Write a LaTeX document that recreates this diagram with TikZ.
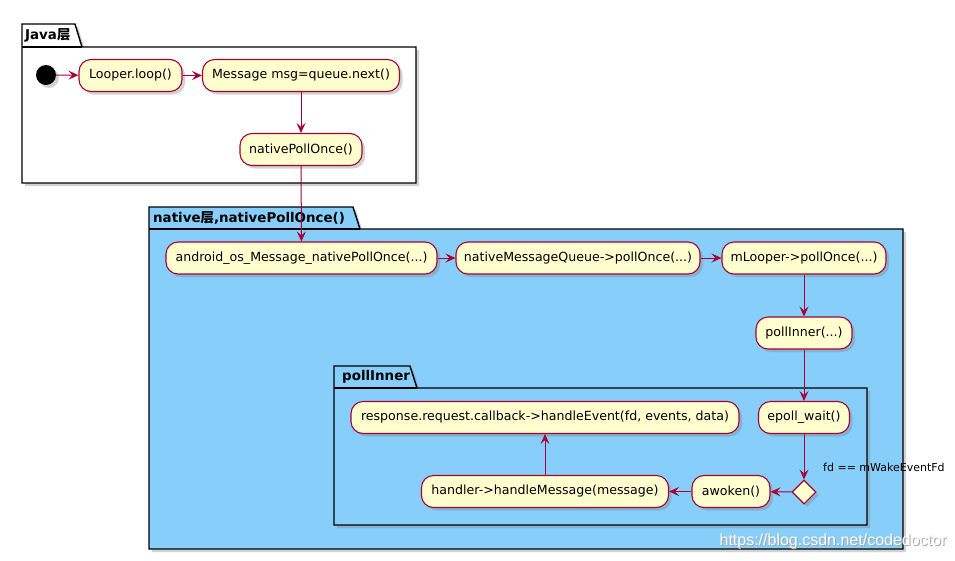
\documentclass[tikz,border=0pt]{standalone}
\usepackage{fontspec}
\setmainfont{DejaVu Sans}
\newfontfamily\cjk{Noto Sans CJK SC}
\newfontfamily\wmfont{Liberation Sans}
\usepackage{tikz}
\usetikzlibrary{arrows.meta,positioning,shapes.geometric,shadows}
\definecolor{umlred}{HTML}{A80036}
\definecolor{umlbox}{HTML}{FEFECE}
\definecolor{skyblue}{HTML}{87CEFA}
\tikzset{
  act/.style={draw=umlred,fill=umlbox,line width=1.1pt,rounded corners=12pt,
    minimum height=32pt,inner xsep=0pt,font=\fontsize{12.6}{14}\selectfont,
    drop shadow={shadow xshift=3pt,shadow yshift=-3pt,opacity=0.35}},
  pkg/.style={draw=black,line width=1.4pt,
    drop shadow={shadow xshift=3pt,shadow yshift=-3pt,opacity=0.35}},
  pkglabel/.style={anchor=west,inner sep=0pt,font=\fontsize{13.4}{15}\selectfont\bfseries},
  flow/.style={draw=umlred,line width=1pt,-{Stealth[length=10pt,width=9pt,inset=4pt]}}
}
\begin{document}
\begin{tikzpicture}[x=1pt,y=-1pt]
 \useasboundingbox[fill=white] (0,0) rectangle (955,560);
 % --- Java package ---
 \draw[pkg,fill=white] (22,24) -- (75,24) -- (82,47) -- (416,47) -- (416,183) -- (22,183) -- cycle;
 \draw[line width=1.4pt] (22,47) -- (82,47);
 \node[pkglabel] (javalbl) at (25,35) {Java{\cjk 层}};
 % --- native package ---
 \draw[pkg,fill=skyblue] (149,207) -- (353,207) -- (360,229) -- (903,229) -- (903,549) -- (149,549) -- cycle;
 \draw[line width=1.4pt] (149,229) -- (360,229);
 \node[pkglabel] (nativelbl) at (153,218) {native{\cjk 层},nativePollOnce()};
 % --- pollInner package ---
 \draw[pkg,fill=skyblue] (334,366) -- (410,366) -- (417,388) -- (867,388) -- (867,525) -- (334,525) -- cycle;
 \draw[line width=1.4pt] (334,388) -- (417,388);
 \node[pkglabel] (innerlbl) at (342,377) {pollInner};
 % --- activities ---
 \node[circle,fill=black,minimum size=20pt,inner sep=0pt,
   drop shadow={shadow xshift=3pt,shadow yshift=-3pt,opacity=0.35}] (start) at (46,75) {};
 \node[act,minimum width=103pt] (loop) at (130.5,75.5) {Looper.loop()};
 \node[act,minimum width=197pt] (next) at (301,75.5) {Message msg=queue.next()};
 \node[act,minimum width=122pt] (npo) at (301,149.5) {nativePollOnce()};
 \node[act,minimum width=271pt] (jni) at (301.5,258) {android\_os\_Message\_nativePollOnce(...)};
 \node[act,minimum width=244pt] (nmq) at (578,258) {nativeMessageQueue->pollOnce(...)};
 \node[act,minimum width=164pt] (mlooper) at (804,258) {mLooper->pollOnce(...)};
 \node[act,minimum width=96pt] (pinner) at (804,333) {pollInner(...)};
 \node[act,minimum width=91pt] (epoll) at (804,417.5) {epoll\_wait()};
 \node[act,minimum width=388pt] (resp) at (545,417.5) {response.request.callback->handleEvent(fd, events, data)};
 \node[diamond,draw=umlred,fill=umlbox,line width=1.1pt,minimum size=24pt,inner sep=0pt,
   drop shadow={shadow xshift=3pt,shadow yshift=-3pt,opacity=0.35}] (wake) at (804,492) {};
 \node[act,minimum width=78pt] (awoken) at (731,491.5) {awoken()};
 \node[act,minimum width=247pt] (handler) at (545,491.5) {handler->handleMessage(message)};
 \node[anchor=west,inner sep=0pt,font=\fontsize{11}{13}\selectfont] (cond) at (823,467) {fd == mWakeEventFd};
 % --- flows ---
 \draw[flow] (start) -- (loop);
 \draw[flow] (loop) -- (next);
 \draw[flow] (next) -- (npo);
 \draw[flow] (npo) -- (jni);
 \draw[flow] (jni) -- (nmq);
 \draw[flow] (nmq) -- (mlooper);
 \draw[flow] (mlooper) -- (pinner);
 \draw[flow] (pinner) -- (epoll);
 \draw[flow] (epoll) -- (wake);
 \draw[flow] (wake) -- (awoken);
 \draw[flow] (awoken) -- (handler);
 \draw[flow] (handler) -- (resp);
 % --- watermark ---
 \node[font=\wmfont\fontsize{16}{18}\selectfont,text=black!35] (wmshade) at (834,542) {https://blog.csdn.net/codedoctor};
 \node[font=\wmfont\fontsize{16}{18}\selectfont,text=white] (wm) at (833,541) {https://blog.csdn.net/codedoctor};
\end{tikzpicture}
\end{document}
